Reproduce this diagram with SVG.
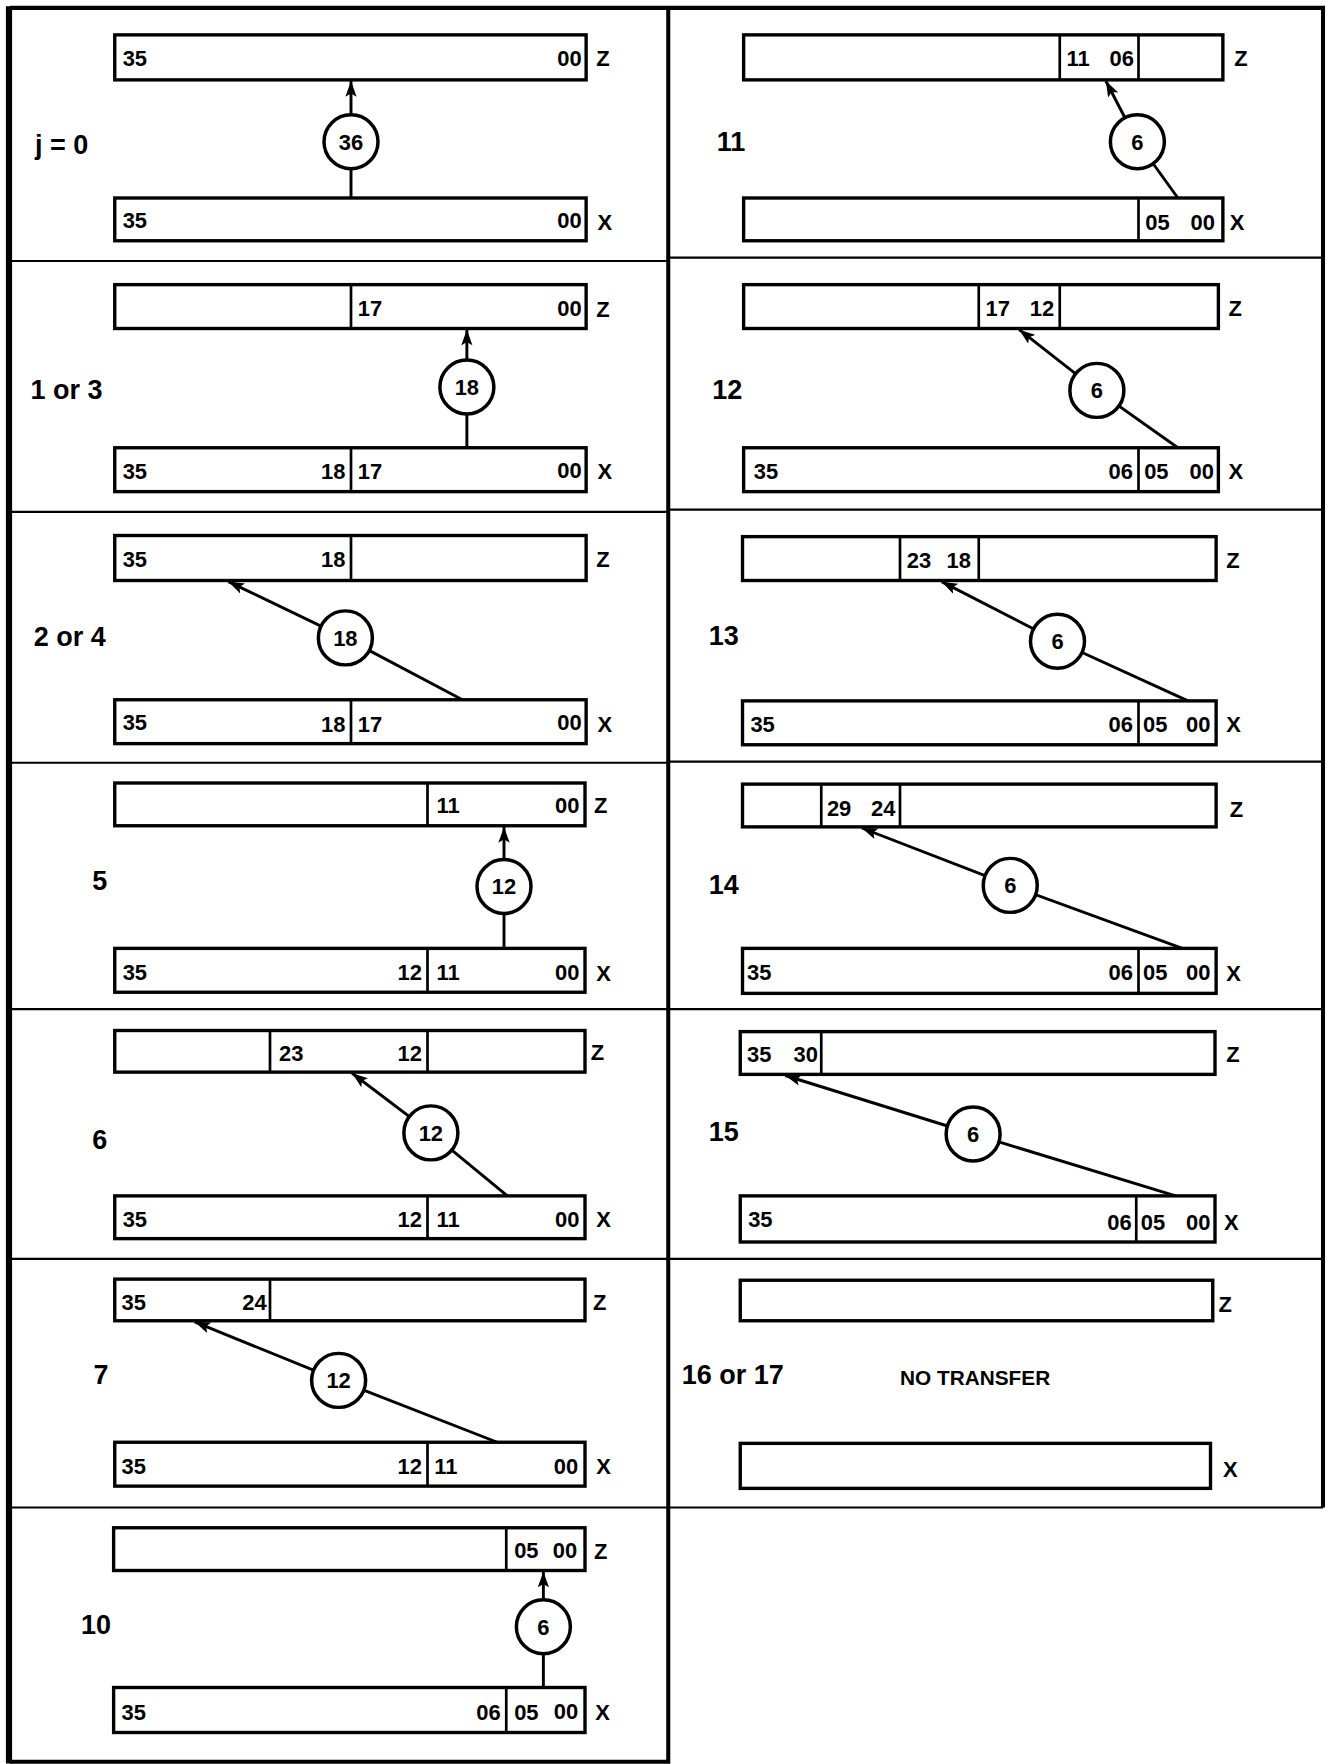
<svg xmlns="http://www.w3.org/2000/svg" width="1332" height="1764" viewBox="0 0 1332 1764">
<defs>
<style>
.frame{fill:none;stroke:#000;stroke-width:3.6}
.fl{stroke:#000;stroke-width:5.5}
.row{stroke:#000;stroke-width:1.8}
.reg{fill:#fff;stroke:#000;stroke-width:3}
.dv{stroke:#000;stroke-width:2.4}
.c{stroke:#000;stroke-width:2.6;fill:none}
.ring{fill:#fff;stroke:#000;stroke-width:3.1}
text{font-family:"Liberation Sans","DejaVu Sans",sans-serif;font-weight:bold;fill:#000}
.n{font-size:19.5px}
.e{text-anchor:end}
.m{text-anchor:middle}
.lab{font-size:24px}
.nt{font-size:18.5px}
</style>
<marker id="ah" markerUnits="userSpaceOnUse" markerWidth="14" markerHeight="10" refX="14" refY="5" orient="auto">
<path d="M0,0 L14,5 L0,10 L3,5 z" fill="#000"/>
</marker>
</defs>
<rect width="1332" height="1764" fill="#fff"/>
<g transform="scale(1.125)">
<g id="frame">
<path class="frame" d="M9,7 H1176 V1340"/>
<path class="frame" d="M594,7 V1566 H9"/>
<line class="fl" x1="8" y1="5.5" x2="8" y2="1567.5"/>
<line class="row" x1="9" y1="232" x2="594" y2="232"/>
<line class="row" x1="9" y1="455" x2="594" y2="455"/>
<line class="row" x1="9" y1="678" x2="594" y2="678"/>
<line class="row" x1="9" y1="897" x2="594" y2="897"/>
<line class="row" x1="9" y1="1119" x2="594" y2="1119"/>
<line class="row" x1="9" y1="1340" x2="594" y2="1340"/>
<line class="row" x1="594" y1="229" x2="1176" y2="229"/>
<line class="row" x1="594" y1="453" x2="1176" y2="453"/>
<line class="row" x1="594" y1="677" x2="1176" y2="677"/>
<line class="row" x1="594" y1="897" x2="1176" y2="897"/>
<line class="row" x1="594" y1="1119" x2="1176" y2="1119"/>
<line class="row" x1="594" y1="1340" x2="1176" y2="1340"/>
</g>
<g id="connectors">
<line class="c" x1="312" y1="176" x2="312" y2="126"/>
<line class="c" x1="312" y1="126" x2="312" y2="72" marker-end="url(#ah)"/>
<line class="c" x1="415" y1="398" x2="415" y2="344"/>
<line class="c" x1="415" y1="344" x2="415" y2="293" marker-end="url(#ah)"/>
<line class="c" x1="411" y1="622" x2="307" y2="567"/>
<line class="c" x1="307" y1="567" x2="203" y2="517" marker-end="url(#ah)"/>
<line class="c" x1="448" y1="843" x2="448" y2="788"/>
<line class="c" x1="448" y1="788" x2="448" y2="735" marker-end="url(#ah)"/>
<line class="c" x1="451" y1="1063" x2="383" y2="1007"/>
<line class="c" x1="383" y1="1007" x2="313" y2="954" marker-end="url(#ah)"/>
<line class="c" x1="442" y1="1282" x2="301" y2="1227"/>
<line class="c" x1="301" y1="1227" x2="173" y2="1175" marker-end="url(#ah)"/>
<line class="c" x1="483" y1="1500" x2="483" y2="1446"/>
<line class="c" x1="483" y1="1446" x2="483" y2="1397" marker-end="url(#ah)"/>
<line class="c" x1="1047" y1="176" x2="1011" y2="126"/>
<line class="c" x1="1011" y1="126" x2="983" y2="72" marker-end="url(#ah)"/>
<line class="c" x1="1047" y1="398" x2="975" y2="347"/>
<line class="c" x1="975" y1="347" x2="906" y2="293" marker-end="url(#ah)"/>
<line class="c" x1="1056" y1="623" x2="940" y2="570"/>
<line class="c" x1="940" y1="570" x2="837" y2="517" marker-end="url(#ah)"/>
<line class="c" x1="1051" y1="843" x2="898" y2="787"/>
<line class="c" x1="898" y1="787" x2="766" y2="736" marker-end="url(#ah)"/>
<line class="c" x1="1045" y1="1063" x2="865" y2="1008"/>
<line class="c" x1="865" y1="1008" x2="698" y2="956" marker-end="url(#ah)"/>
</g>

<g id="p-j0">
<text class="lab" x="31" y="137">j = 0</text>
<rect class="reg" x="102" y="31" width="419" height="40"/>
<text class="n" x="109" y="59">35</text><text class="n e" x="517" y="59">00</text><text class="n" x="530" y="59">Z</text>
<rect class="reg" x="102" y="176" width="419" height="38"/>
<text class="n" x="109" y="203">35</text><text class="n e" x="517" y="203">00</text><text class="n" x="531" y="204">X</text>
<circle class="ring" cx="312" cy="126" r="24"/><text class="n m" x="312" y="133">36</text>
</g>

<g id="p-1or3">
<text class="lab" x="27" y="355">1 or 3</text>
<rect class="reg" x="102" y="253" width="419" height="39"/><line class="dv" x1="312" y1="253" x2="312" y2="292"/>
<text class="n" x="318" y="281">17</text><text class="n e" x="517" y="281">00</text><text class="n" x="530" y="282">Z</text>
<rect class="reg" x="102" y="398" width="419" height="39"/><line class="dv" x1="312" y1="398" x2="312" y2="437"/>
<text class="n" x="109" y="426">35</text><text class="n e" x="307" y="426">18</text><text class="n" x="318" y="426">17</text><text class="n e" x="517" y="425">00</text><text class="n" x="531" y="426">X</text>
<circle class="ring" cx="415" cy="344" r="24"/><text class="n m" x="415" y="351">18</text>
</g>

<g id="p-2or4">
<text class="lab" x="30" y="574">2 or 4</text>
<rect class="reg" x="102" y="476" width="419" height="40"/><line class="dv" x1="312" y1="476" x2="312" y2="516"/>
<text class="n" x="109" y="504">35</text><text class="n e" x="307" y="504">18</text><text class="n" x="530" y="504">Z</text>
<rect class="reg" x="102" y="622" width="419" height="39"/><line class="dv" x1="312" y1="622" x2="312" y2="661"/>
<text class="n" x="109" y="649">35</text><text class="n e" x="307" y="651">18</text><text class="n" x="318" y="651">17</text><text class="n e" x="517" y="649">00</text><text class="n" x="531" y="651">X</text>
<circle class="ring" cx="307" cy="567" r="24"/><text class="n m" x="307" y="574">18</text>
</g>

<g id="p-5">
<text class="lab" x="82" y="791">5</text>
<rect class="reg" x="102" y="696" width="418" height="38"/><line class="dv" x1="380" y1="696" x2="380" y2="734"/>
<text class="n" x="388" y="723">11</text><text class="n e" x="515" y="723">00</text><text class="n" x="528" y="723">Z</text>
<rect class="reg" x="102" y="843" width="418" height="39"/><line class="dv" x1="380" y1="843" x2="380" y2="882"/>
<text class="n" x="109" y="871">35</text><text class="n e" x="375" y="871">12</text><text class="n" x="388" y="871">11</text><text class="n e" x="515" y="871">00</text><text class="n" x="530" y="872">X</text>
<circle class="ring" cx="448" cy="788" r="24"/><text class="n m" x="448" y="795">12</text>
</g>

<g id="p-6">
<text class="lab" x="82" y="1021">6</text>
<rect class="reg" x="102" y="916" width="418" height="37"/><line class="dv" x1="240" y1="916" x2="240" y2="953"/><line class="dv" x1="380" y1="916" x2="380" y2="953"/>
<text class="n" x="248" y="943">23</text><text class="n e" x="375" y="943">12</text><text class="n" x="525" y="942">Z</text>
<rect class="reg" x="102" y="1063" width="418" height="38"/><line class="dv" x1="380" y1="1063" x2="380" y2="1101"/>
<text class="n" x="109" y="1091">35</text><text class="n e" x="375" y="1091">12</text><text class="n" x="388" y="1091">11</text><text class="n e" x="515" y="1091">00</text><text class="n" x="530" y="1091">X</text>
<circle class="ring" cx="383" cy="1007" r="24"/><text class="n m" x="383" y="1014">12</text>
</g>

<g id="p-7">
<text class="lab" x="83" y="1230">7</text>
<rect class="reg" x="102" y="1137" width="418" height="37"/><line class="dv" x1="240" y1="1137" x2="240" y2="1174"/>
<text class="n" x="108" y="1164">35</text><text class="n e" x="237" y="1164">24</text><text class="n" x="527" y="1164">Z</text>
<rect class="reg" x="102" y="1282" width="418" height="39"/><line class="dv" x1="380" y1="1282" x2="380" y2="1321"/>
<text class="n" x="108" y="1310">35</text><text class="n e" x="375" y="1310">12</text><text class="n" x="386" y="1310">11</text><text class="n e" x="514" y="1310">00</text><text class="n" x="530" y="1310">X</text>
<circle class="ring" cx="301" cy="1227" r="24"/><text class="n m" x="301" y="1234">12</text>
</g>

<g id="p-10">
<text class="lab" x="72" y="1452">10</text>
<rect class="reg" x="101" y="1358" width="419" height="38"/><line class="dv" x1="450" y1="1358" x2="450" y2="1396"/>
<text class="n" x="457" y="1385">05</text><text class="n e" x="513" y="1385">00</text><text class="n" x="528" y="1386">Z</text>
<rect class="reg" x="101" y="1500" width="419" height="40"/><line class="dv" x1="450" y1="1500" x2="450" y2="1540"/>
<text class="n" x="108" y="1529">35</text><text class="n e" x="445" y="1529">06</text><text class="n" x="457" y="1529">05</text><text class="n e" x="514" y="1528">00</text><text class="n" x="529" y="1529">X</text>
<circle class="ring" cx="483" cy="1446" r="24"/><text class="n m" x="483" y="1453">6</text>
</g>

<g id="p-11">
<text class="lab" x="637" y="134">11</text>
<rect class="reg" x="661" y="31" width="426" height="40"/><line class="dv" x1="942" y1="31" x2="942" y2="71"/><line class="dv" x1="1012" y1="31" x2="1012" y2="71"/>
<text class="n" x="948" y="59">11</text><text class="n e" x="1008" y="59">06</text><text class="n" x="1097" y="59">Z</text>
<rect class="reg" x="661" y="176" width="426" height="38"/><line class="dv" x1="1012" y1="176" x2="1012" y2="214"/>
<text class="n" x="1018" y="204">05</text><text class="n e" x="1080" y="204">00</text><text class="n" x="1093" y="204">X</text>
<circle class="ring" cx="1011" cy="126" r="24"/><text class="n m" x="1011" y="133">6</text>
</g>

<g id="p-12">
<text class="lab" x="633" y="355">12</text>
<rect class="reg" x="661" y="253" width="422" height="39"/><line class="dv" x1="870" y1="253" x2="870" y2="292"/><line class="dv" x1="942" y1="253" x2="942" y2="292"/>
<text class="n" x="876" y="281">17</text><text class="n e" x="937" y="281">12</text><text class="n" x="1092" y="281">Z</text>
<rect class="reg" x="661" y="398" width="422" height="39"/><line class="dv" x1="1012" y1="398" x2="1012" y2="437"/>
<text class="n" x="670" y="426">35</text><text class="n e" x="1007" y="426">06</text><text class="n" x="1017" y="426">05</text><text class="n e" x="1079" y="426">00</text><text class="n" x="1092" y="426">X</text>
<circle class="ring" cx="975" cy="347" r="24"/><text class="n m" x="975" y="354">6</text>
</g>

<g id="p-13">
<text class="lab" x="630" y="573">13</text>
<rect class="reg" x="660" y="477" width="421" height="39"/><line class="dv" x1="800" y1="477" x2="800" y2="516"/><line class="dv" x1="870" y1="477" x2="870" y2="516"/>
<text class="n" x="806" y="505">23</text><text class="n e" x="863" y="505">18</text><text class="n" x="1090" y="505">Z</text>
<rect class="reg" x="660" y="623" width="421" height="39"/><line class="dv" x1="1012" y1="623" x2="1012" y2="662"/>
<text class="n" x="667" y="651">35</text><text class="n e" x="1007" y="651">06</text><text class="n" x="1016" y="651">05</text><text class="n e" x="1076" y="651">00</text><text class="n" x="1090" y="651">X</text>
<circle class="ring" cx="940" cy="570" r="24"/><text class="n m" x="940" y="577">6</text>
</g>

<g id="p-14">
<text class="lab" x="630" y="795">14</text>
<rect class="reg" x="660" y="697" width="421" height="38"/><line class="dv" x1="730" y1="697" x2="730" y2="735"/><line class="dv" x1="800" y1="697" x2="800" y2="735"/>
<text class="n" x="735" y="725">29</text><text class="n e" x="796" y="725">24</text><text class="n" x="1093" y="726">Z</text>
<rect class="reg" x="660" y="843" width="421" height="40"/><line class="dv" x1="1012" y1="843" x2="1012" y2="883"/>
<text class="n" x="664" y="871">35</text><text class="n e" x="1007" y="871">06</text><text class="n" x="1016" y="871">05</text><text class="n e" x="1076" y="871">00</text><text class="n" x="1090" y="872">X</text>
<circle class="ring" cx="898" cy="787" r="24"/><text class="n m" x="898" y="794">6</text>
</g>

<g id="p-15">
<text class="lab" x="630" y="1014">15</text>
<rect class="reg" x="658" y="917" width="422" height="38"/><line class="dv" x1="730" y1="917" x2="730" y2="955"/>
<text class="n" x="664" y="944">35</text><text class="n e" x="727" y="944">30</text><text class="n" x="1090" y="944">Z</text>
<rect class="reg" x="658" y="1063" width="422" height="41"/><line class="dv" x1="1010" y1="1063" x2="1010" y2="1104"/>
<text class="n" x="665" y="1091">35</text><text class="n e" x="1006" y="1093">06</text><text class="n" x="1014" y="1093">05</text><text class="n e" x="1076" y="1093">00</text><text class="n" x="1088" y="1093">X</text>
<circle class="ring" cx="865" cy="1008" r="24"/><text class="n m" x="865" y="1015">6</text>
</g>

<g id="p-16or17">
<text class="lab" x="606" y="1230">16 or 17</text>
<text class="nt" x="800" y="1231">NO TRANSFER</text>
<rect class="reg" x="658" y="1138" width="420" height="36"/><text class="n" x="1083" y="1166">Z</text>
<rect class="reg" x="658" y="1283" width="418" height="40"/><text class="n" x="1087" y="1313">X</text>
</g>
</g>
</svg>
